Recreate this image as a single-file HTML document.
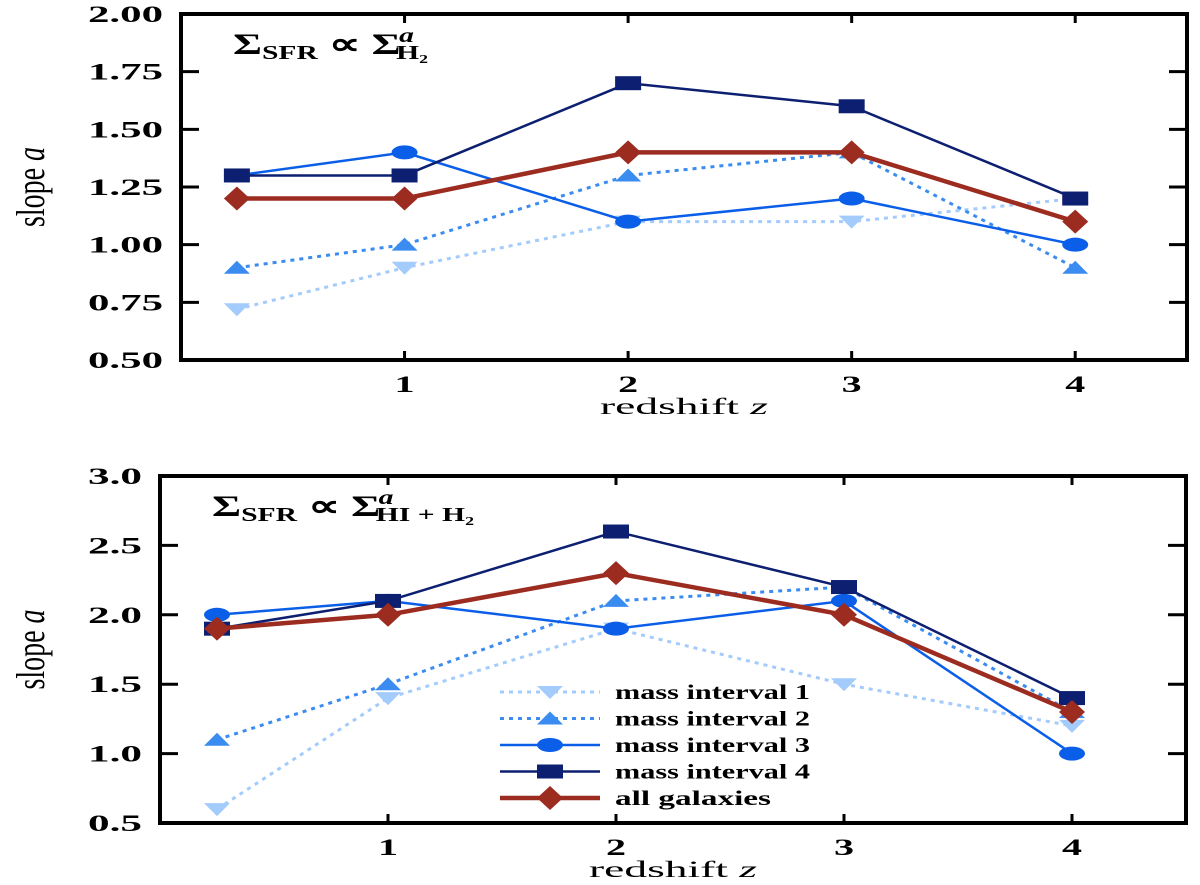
<!DOCTYPE html>
<html><head><meta charset="utf-8"><style>
body{margin:0;background:#fff}
svg{display:block}
text{font-family:"Liberation Serif",serif}
</style></head><body>
<svg id="c" width="1200" height="885" xmlns="http://www.w3.org/2000/svg"></svg>
<script>
const zVals=[0.25,1,2,3,4];
const topM1=[0.72,0.9,1.1,1.1,1.2];
const topM2=[0.9,1.0,1.3,1.4,0.9];
const topM3=[1.3,1.4,1.1,1.2,1.0];
const topM4=[1.3,1.3,1.7,1.6,1.2];
const topAll=[1.2,1.2,1.4,1.4,1.1];
const botM1=[0.6,1.4,1.9,1.5,1.2];
const botM2=[1.1,1.5,2.1,2.2,1.3];
const botM3=[2.0,2.1,1.9,2.1,1.0];
const botM4=[1.9,2.1,2.6,2.2,1.4];
const botAll=[1.9,2.0,2.3,2.0,1.3];
const topYTicks=["0.50","0.75","1.00","1.25","1.50","1.75","2.00"];
const botYTicks=["0.5","1.0","1.5","2.0","2.5","3.0"];
const xTicks=[1,2,3,4];
const legendLabels=["mass interval 1","mass interval 2","mass interval 3","mass interval 4","all galaxies"];

const NS="http://www.w3.org/2000/svg";
const svg=document.getElementById('c');
function el(t,a,p){const e=document.createElementNS(NS,t);for(const k in a)e.setAttribute(k,a[k]);(p||svg).appendChild(e);return e;}
const styles=[
 {c:'#a3cbfb',w:3,d:'4,5',m:'down'},
 {c:'#3a8cf0',w:3,d:'4,5',m:'up'},
 {c:'#0b5ee8',w:2.5,d:null,m:'circle'},
 {c:'#0c1f70',w:2.5,d:null,m:'square'},
 {c:'#9c2b20',w:4.5,d:null,m:'diamond'}];
function marker(g,s,x,y){
 let e;
 if(s.m==='down')e=el('polygon',{points:`${x-13},${y-6} ${x+13},${y-6} ${x},${y+7}`,fill:s.c},g);
 else if(s.m==='up')e=el('polygon',{points:`${x-13},${y+6} ${x+13},${y+6} ${x},${y-7}`,fill:s.c},g);
 else if(s.m==='circle')e=el('ellipse',{cx:x,cy:y,rx:13,ry:7,fill:s.c},g);
 else if(s.m==='square')e=el('rect',{x:x-13,y:y-7,width:26,height:14,fill:s.c},g);
 else e=el('polygon',{points:`${x-13},${y} ${x},${y-12} ${x+13},${y} ${x},${y+12}`,fill:s.c},g);
 
 
}
function panel(name,L,T,R,B,ymin,ymax,yt,series,sub,titleLen,legend){
 const g=el('g',{});
 
 
 const xs=z=>L+(R-L)*z/4.5, ys=v=>B-(B-T)*(v-ymin)/(ymax-ymin);
 const fr=el('rect',{x:L,y:T,width:R-L,height:B-T,fill:'none',stroke:'#000','stroke-width':4},g);
 
 yt.forEach(t=>{const y=ys(+t);
  el('line',{x1:L,x2:L+18,y1:y,y2:y,stroke:'#000','stroke-width':3},g);
  el('line',{x1:R,x2:R-18,y1:y,y2:y,stroke:'#000','stroke-width':3},g);
  const len=(t.length-1)*21+12;
  const tx=el('text',{x:L-18-len,y:y+8,'font-size':23,'font-weight':'bold',textLength:len,lengthAdjust:'spacingAndGlyphs'},g);tx.textContent=t;
  });
 xTicks.forEach(t=>{const x=xs(t);
  el('line',{x1:x,x2:x,y1:B,y2:B-9,stroke:'#000','stroke-width':3},g);
  el('line',{x1:x,x2:x,y1:T,y2:T+9,stroke:'#000','stroke-width':3},g);
  const tx=el('text',{x:x-10,y:B+32,'font-size':23,'font-weight':'bold',textLength:20,lengthAdjust:'spacingAndGlyphs'},g);tx.textContent=t;
  });
 const xl=el('text',{x:(L+R)/2-84,y:B+54,'font-size':23,textLength:168,lengthAdjust:'spacingAndGlyphs'},g);
 xl.innerHTML='redshift <tspan font-style="italic">z</tspan>';
 
 const yl=el('text',{transform:`translate(44,${(T+B)/2}) rotate(-90) scale(0.7,1)`,'text-anchor':'middle','font-size':40},g);
 yl.innerHTML='slope <tspan font-style="italic">a</tspan>';
 
 const ti=el('text',{x:L+52,y:T+40,'font-size':30,'font-weight':'bold',textLength:titleLen,lengthAdjust:'spacingAndGlyphs'},g);
 ti.innerHTML=`Σ<tspan font-size="20" dy="5">SFR</tspan><tspan dy="-5"> ∝ Σ</tspan><tspan font-size="20" font-style="italic" dy="-12" dx="-1">a</tspan><tspan font-size="20" dy="17" dx="-12">${sub}</tspan>`;
 
 series.forEach((vals,i)=>{const s=styles[i];
  const sg=el('g',{},g);
  
  const pts=vals.map((v,j)=>xs(zVals[j])+','+ys(v)).join(' ');
  const a={points:pts,fill:'none',stroke:s.c,'stroke-width':s.w};if(s.d)a['stroke-dasharray']=s.d;
  const pl=el('polyline',a,sg);
  vals.forEach((v,j)=>marker(sg,s,xs(zVals[j]),ys(v)));
 });
 if(legend){
  legendLabels.forEach((lab,i)=>{const s=styles[i];const y=692+i*26.5;
   const lg=el('g',{},g);
   
   const a={x1:500,x2:600,y1:y,y2:y,stroke:s.c,'stroke-width':s.w};if(s.d)a['stroke-dasharray']=s.d;
   el('line',a,lg);marker(lg,s,550,y);
   const t=el('text',{x:615,y:y+7,'font-size':21,'font-weight':'bold',textLength:lab.length*13,lengthAdjust:'spacingAndGlyphs'},lg);t.textContent=lab;
  });
 }
}
panel('top-panel',181,14,1187,360,0.5,2.0,topYTicks,[topM1,topM2,topM3,topM4,topAll],'H₂',195,false);
panel('bottom-panel',160,476,1186,823,0.5,3.0,botYTicks,[botM1,botM2,botM3,botM4,botAll],'HI + H₂',262,true);
</script>
</body></html>
